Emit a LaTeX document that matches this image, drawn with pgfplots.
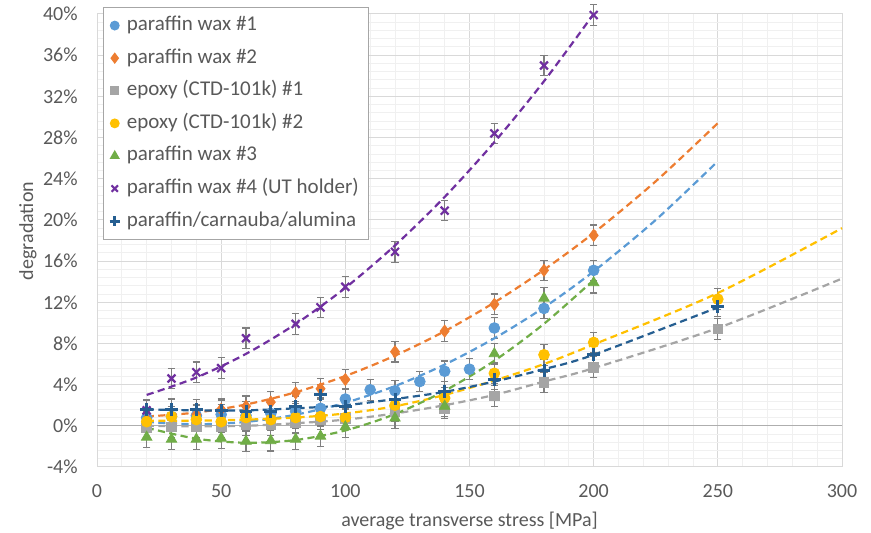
\documentclass[border=0pt]{standalone}
\usepackage{pgfplots}
\pgfplotsset{compat=1.18}
\usepackage{fontspec}
\setmainfont{Carlito}

\definecolor{c1}{HTML}{5B9BD5}
\definecolor{c2}{HTML}{ED7D31}
\definecolor{c3}{HTML}{A5A5A5}
\definecolor{c4}{HTML}{FFC000}
\definecolor{c5}{HTML}{70AD47}
\definecolor{c6}{HTML}{7030A0}
\definecolor{c7}{HTML}{255E91}
\definecolor{txt}{HTML}{595959}
\definecolor{gridc}{HTML}{D9D9D9}
\definecolor{mgrid}{HTML}{F0F0F0}
\definecolor{ebar}{HTML}{7F7F7F}
\definecolor{legbord}{HTML}{A6A6A6}

\pgfplotsset{
  eb/.style={error bars/y dir=both, error bars/y fixed=1,
    error bars/error bar style={ebar, line width=0.55pt, solid},
    error bars/error mark options={ebar, rotate=90, mark size=1.8pt, line width=0.55pt, solid}},
  tr/.style={forget plot, smooth, no markers, line width=1.1pt, dash pattern=on 3.6pt off 2.2pt},
}
\newcommand\legtxt[1]{\makebox[118pt][l]{#1}}

\begin{document}
\begin{tikzpicture}[font=\fontsize{10}{12}\selectfont]
\useasboundingbox (-48.5pt,-33pt) rectangle (387pt,233.5pt);
\begin{axis}[
  scale only axis, width=372.5pt, height=226.5pt,
  xmin=0, xmax=300, ymin=-4, ymax=40,
  xtick={0,50,...,300}, ytick={-4,0,...,40},
  minor x tick num=4, minor y tick num=4,
  grid=both,
  major grid style={draw=gridc, line width=0.5pt},
  minor grid style={draw=mgrid, line width=0.5pt},
  axis line style={draw=gridc, line width=0.5pt},
  major tick length=0pt, minor tick length=0pt,
  /pgf/number format/assume math mode=true,
  ticklabel style={text=txt, font=\fontsize{10}{12}\selectfont},
  yticklabel={\pgfmathprintnumber{\tick}\%},
  x tick label style={anchor=center, yshift=-12pt},
  y tick label style={anchor=east, xshift=-9.5pt, inner sep=0pt},
  xlabel={average transverse stress [MPa]},
  ylabel={degradation},
  xlabel style={at={(axis description cs:0.5,-0.1192)}, anchor=center, text=txt},
  ylabel style={at={(axis description cs:-0.0926,0.521)}, anchor=center, text=txt},
  clip=false,
  legend style={at={(0.0081,1.0155)}, anchor=north west, draw=legbord, fill=white,
    line width=0.6pt, text=txt, font=\fontsize{10.5}{12}\selectfont,
    inner xsep=3pt, inner ysep=4.5pt, row sep=7.3pt,
    nodes={inner sep=0pt, text height=7pt, text depth=2pt},
    /tikz/every odd column/.append style={column sep=3.5pt}},
  legend cell align=left,
  legend image code/.code={\draw[#1, every mark/.append style={scale=0.8}] plot coordinates {(0pt,0pt)};},
]
\addplot[forget plot, draw=gridc!80!black, line width=0.6pt] coordinates {(0,0) (300,0)};

\addplot[only marks, color=c1, mark=*, mark size=2.7pt, mark options={fill=c1, draw=c1}, eb] coordinates {
(20,0.8)(30,0.9)(40,1.0)(50,1.1)(60,1.0)(70,1.2)(80,1.4)(90,1.7)(100,2.6)(110,3.5)(120,3.4)(130,4.3)(140,5.3)(150,5.5)(160,9.5)(180,11.4)(200,15.1)};
\addlegendentry{\legtxt{paraffin wax \#1}}
\addplot[only marks, color=c2, mark=diamond*, mark size=3pt, mark options={fill=c2, draw=c2}, eb] coordinates {
(20,0.6)(30,0.9)(40,1.1)(50,1.6)(60,1.9)(70,2.3)(80,3.2)(90,3.6)(100,4.5)(120,7.2)(140,9.2)(160,11.8)(180,15.1)(200,18.5)};
\addlegendentry{\legtxt{paraffin wax \#2}}
\addplot[only marks, color=c3, mark=square*, mark size=2.4pt, mark options={fill=c3, draw=c3}, eb] coordinates {
(20,-0.2)(30,-0.1)(40,-0.1)(50,-0.1)(60,0.1)(70,0.1)(80,0.3)(90,0.6)(100,0.7)(120,1.4)(140,1.7)(160,2.9)(180,4.2)(200,5.7)(250,9.4)};
\addlegendentry{\legtxt{epoxy (CTD-101k) \#1}}
\addplot[only marks, color=c4, mark=*, mark size=2.7pt, mark options={fill=c4, draw=c4}, eb] coordinates {
(20,0.4)(30,0.9)(40,0.6)(50,0.4)(60,0.8)(70,0.6)(80,0.8)(90,0.9)(100,0.8)(120,2.0)(140,2.7)(160,5.1)(180,6.9)(200,8.1)(250,12.3)};
\addlegendentry{\legtxt{epoxy (CTD-101k) \#2}}
\addplot[only marks, color=c5, mark=triangle*, mark size=3pt, mark options={fill=c5, draw=c5}, eb] coordinates {
(20,-1.1)(30,-1.3)(40,-1.3)(50,-1.2)(60,-1.5)(70,-1.45)(80,-1.3)(90,-1.0)(100,-0.1)(120,0.75)(140,1.9)(160,7.0)(180,12.4)(200,13.9)};
\addlegendentry{\legtxt{paraffin wax \#3}}
\addplot[only marks, color=c6, mark=x, mark size=2.8pt, line width=1.1pt, eb] coordinates {
(20,1.5)(30,4.6)(40,5.2)(50,5.6)(60,8.5)(80,9.9)(90,11.5)(100,13.5)(120,16.9)(140,20.9)(160,28.4)(180,35.0)(200,39.9)};
\addlegendentry{\legtxt{paraffin wax \#4 (UT holder)}}
\addplot[only marks, color=c7, mark=+, mark size=3.2pt, line width=1.5pt, eb] coordinates {
(20,1.55)(30,1.6)(40,1.55)(50,1.5)(60,1.4)(70,1.4)(80,1.9)(90,3.0)(100,1.9)(120,2.6)(140,3.3)(160,4.5)(180,5.4)(200,6.9)(250,11.6)};
\addlegendentry{\legtxt{paraffin/carnauba/alumina}}

% trendlines
\addplot[tr, c1] coordinates {(20,0.38)(40,0.15)(60,0.38)(80,1.08)(100,2.24)(120,3.86)(140,5.95)(160,8.5)(180,11.5)(200,15.0)(225,20.0)(250,25.7)};
\addplot[tr, c2] coordinates {(20,0.90)(40,1.29)(60,2.07)(80,3.26)(100,4.84)(120,6.82)(140,9.19)(160,11.98)(180,15.16)(200,18.73)(225,23.75)(250,29.4)};
\addplot[tr, c3] coordinates {(20,0.0)(40,-0.05)(60,0.0)(80,0.25)(100,0.6)(120,1.2)(140,2.0)(160,3.0)(180,4.3)(200,5.6)(250,9.5)(300,14.3)};
\addplot[tr, c4] coordinates {(20,0.5)(40,0.5)(60,0.6)(80,0.8)(100,1.2)(120,1.9)(140,3.0)(160,4.4)(180,6.0)(200,7.9)(250,12.9)(300,19.2)};
\addplot[tr, c5] coordinates {(20,-0.19)(40,-1.25)(60,-1.65)(80,-1.38)(100,-0.45)(120,1.14)(140,3.40)(160,6.32)(180,9.91)(200,14.16)};
\addplot[tr, c6] coordinates {(20,3.0)(40,4.69)(60,6.99)(80,9.89)(100,13.40)(120,17.52)(140,22.23)(160,27.55)(180,33.47)(200,40.0)};
\addplot[tr, c7] coordinates {(20,1.6)(40,1.5)(60,1.5)(80,1.7)(100,2.0)(120,2.6)(140,3.3)(160,4.3)(180,5.5)(200,6.9)(250,11.5)};
\end{axis}
\end{tikzpicture}
\end{document}
